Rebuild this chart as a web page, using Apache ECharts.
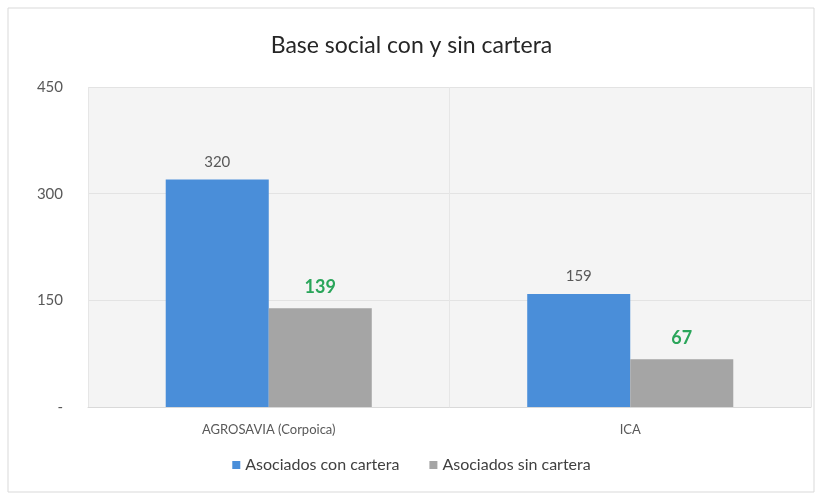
<!DOCTYPE html>
<html>
<head>
<meta charset="utf-8">
<script src="https://cdn.jsdelivr.net/npm/echarts@6/dist/echarts.min.js"></script>
<style>
html,body{margin:0;padding:0;background:#fff;}
#c{width:823px;height:500px;}
</style>
</head>
<body>
<div id="c"></div>
<script>
const titleText = 'Base social con y sin cartera';
const categories = ['AGROSAVIA (Corpoica)', 'ICA'];
const seriesNames = ['Asociados con cartera', 'Asociados sin cartera'];
const conCartera = [320, 159];
const sinCartera = [139, 67];
const yTicks = [0, 150, 300, 450];

const chart = echarts.init(document.getElementById('c'));
chart.setOption({
  animation: false,
  backgroundColor: '#ffffff',
  graphic: [{
    type: 'rect',
    shape: { x: 8, y: 8, width: 806, height: 484 },
    style: { fill: 'none', stroke: '#d9d9d9', lineWidth: 1 }
  }],
  title: {
    text: titleText,
    left: 'center',
    top: 29,
    textStyle: { fontFamily: 'Lato', fontSize: 23, fontWeight: 'normal', color: '#262626' }
  },
  legend: {
    bottom: 22,
    left: 'center',
    itemWidth: 8,
    itemHeight: 8,
    itemGap: 30,
    icon: 'rect',
    textStyle: { fontFamily: 'Lato', fontSize: 16, color: '#404040' },
    data: seriesNames
  },
  grid: {
    left: 88, right: 12, top: 87, bottom: 93,
    show: true,
    backgroundColor: '#f4f4f4',
    borderWidth: 0
  },
  xAxis: {
    type: 'category',
    data: categories,
    axisTick: { show: false },
    axisLine: { show: true, lineStyle: { color: '#d9d9d9' } },
    axisLabel: { fontFamily: 'Lato', fontSize: 13, color: '#595959', margin: 16 },
    splitLine: { show: true, lineStyle: { color: '#e6e6e6' } }
  },
  yAxis: {
    type: 'value',
    min: yTicks[0],
    max: yTicks[yTicks.length - 1],
    interval: yTicks[1] - yTicks[0],
    axisLine: { show: false },
    axisTick: { show: false },
    axisLabel: {
      fontFamily: 'Lato', fontSize: 15, color: '#595959', margin: 25,
      formatter: v => v === 0 ? '-' : String(v)
    },
    splitLine: { show: true, lineStyle: { color: '#e3e3e3' } }
  },
  series: [
    {
      name: seriesNames[0],
      type: 'bar',
      data: conCartera,
      barWidth: '28.5%',
      barGap: '0%',
      itemStyle: { color: '#4a8ed9' },
      label: {
        show: true, position: 'top', distance: 10,
        fontFamily: 'Lato', fontSize: 15, color: '#595959'
      }
    },
    {
      name: seriesNames[1],
      type: 'bar',
      data: sinCartera,
      barWidth: '28.5%',
      itemStyle: { color: '#a5a5a5' },
      label: {
        show: true, position: 'top', distance: 12,
        fontFamily: 'Lato', fontSize: 18, fontWeight: 'bold', color: '#2aa55a'
      }
    }
  ]
});
</script>
</body>
</html>
